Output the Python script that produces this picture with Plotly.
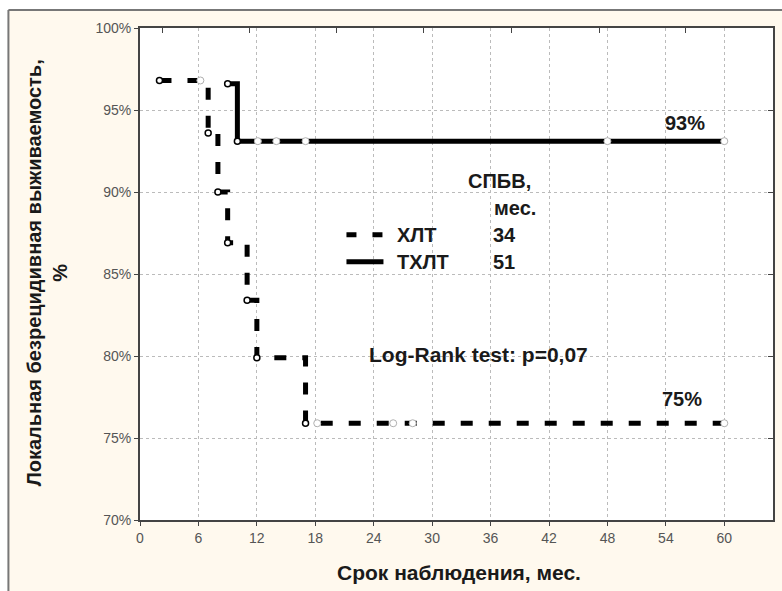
import plotly.graph_objects as go

# ---------------- data ----------------
xlt_times = [2, 7, 8, 9, 11, 12, 17, 60]
xlt_surv = [96.8, 93.6, 90.0, 86.9, 83.4, 79.9, 75.9, 75.9]
xlt_censored = [6.2, 18.2, 26, 28, 60]

txlt_times = [9, 10, 60]
txlt_surv = [96.6, 93.1, 93.1]
txlt_censored = [12.1, 14, 17, 48, 60]

x_ticks = [0, 6, 12, 18, 24, 30, 36, 42, 48, 54, 60]
y_ticks = [70, 75, 80, 85, 90, 95, 100]
top_ticks = [2.35, 11.2, 20.2, 29.1, 38.1, 47.2, 56.0]

legend_names = ["ХЛТ", "ТХЛТ"]
legend_median = ["34", "51"]


def surv_at(times, surv, t):
    s = surv[0]
    for ti, si in zip(times, surv):
        if ti <= t:
            s = si
    return s


FONT = "Liberation Sans, Arial, sans-serif"
fig = go.Figure()

# ХЛТ curve (dashed)
fig.add_trace(go.Scatter(
    x=xlt_times, y=xlt_surv, mode="lines", line_shape="hv",
    line=dict(color="black", width=5, dash="12px,16px"), showlegend=False))
fig.add_trace(go.Scatter(
    x=xlt_times[:-1], y=xlt_surv[:-1], mode="markers",
    marker=dict(symbol="circle", size=6, color="white", line=dict(color="black", width=1.5)),
    showlegend=False))
fig.add_trace(go.Scatter(
    x=xlt_censored, y=[surv_at(xlt_times, xlt_surv, t) for t in xlt_censored], mode="markers",
    marker=dict(symbol="circle", size=7, color="white", line=dict(color="#b0b0b0", width=1)),
    showlegend=False))

# ТХЛТ curve (solid)
fig.add_trace(go.Scatter(
    x=txlt_times, y=txlt_surv, mode="lines", line_shape="hv",
    line=dict(color="black", width=5), showlegend=False))
fig.add_trace(go.Scatter(
    x=txlt_times[:-1], y=txlt_surv[:-1], mode="markers",
    marker=dict(symbol="circle", size=6, color="white", line=dict(color="black", width=1.5)),
    showlegend=False))
fig.add_trace(go.Scatter(
    x=txlt_censored, y=[surv_at(txlt_times, txlt_surv, t) for t in txlt_censored], mode="markers",
    marker=dict(symbol="circle", size=7, color="white", line=dict(color="#b0b0b0", width=1)),
    showlegend=False))

# invisible trace to hold the mirror axes
fig.add_trace(go.Scatter(x=[0], y=[70], xaxis="x2", yaxis="y2", mode="markers",
                         marker=dict(opacity=0), showlegend=False, hoverinfo="skip"))

anns = []
bold = dict(family=FONT, size=20, color="#1a1a1a")
anns.append(dict(x=56.0, y=94.2, text="<b>93%</b>", showarrow=False, font=bold))
anns.append(dict(x=55.7, y=77.4, text="<b>75%</b>", showarrow=False, font=bold))
anns.append(dict(x=36.9, y=90.7, text="<b>СПБВ,</b>", showarrow=False, font=bold))
anns.append(dict(x=38.5, y=89.0, text="<b>мес.</b>", showarrow=False, font=bold))
legend_y = [87.4, 85.75]
for name, med, ly in zip(legend_names, legend_median, legend_y):
    anns.append(dict(x=26.2, y=ly, text="<b>" + name + "</b>", showarrow=False,
                     xanchor="left", font=bold))
    anns.append(dict(x=36.0, y=ly, text="<b>" + med + "</b>", showarrow=False,
                     xanchor="left", font=bold))
anns.append(dict(x=34.8, y=80.1, text="<b>Log-Rank test: p=0,07</b>", showarrow=False,
                 font=dict(family=FONT, size=21, color="#1a1a1a")))

# axis titles
anns.append(dict(xref="paper", yref="paper", x=(460 - 140) / 635, y=-(572 - 520) / 492,
                 xanchor="center", yanchor="middle",
                 text="<b>Срок наблюдения, мес.</b>", showarrow=False,
                 font=dict(family=FONT, size=21, color="#1a1a1a")))
anns.append(dict(xref="paper", yref="paper", x=(47 - 140) / 635, y=(520 - 273) / 492,
                 xanchor="center", yanchor="middle",
                 text="<b>Локальная безрецидивная выживаемость,<br>%</b>", showarrow=False,
                 textangle=-90, font=dict(family=FONT, size=20, color="#1a1a1a")))

shapes = [
    # legend line samples
    dict(type="line", xref="x", yref="y", x0=21.2, x1=25.0, y0=legend_y[0], y1=legend_y[0],
         line=dict(color="black", width=5, dash="10px,16px")),
    dict(type="line", xref="x", yref="y", x0=21.2, x1=25.0, y0=legend_y[1], y1=legend_y[1],
         line=dict(color="black", width=5)),
    # outer white margins and frame
    dict(type="rect", xref="paper", yref="paper", x0=-0.4, x1=1.2, y0=1 + 18 / 492, y1=1.2,
         fillcolor="white", line=dict(width=0)),
    dict(type="rect", xref="paper", yref="paper", x0=-0.4, x1=-132 / 635, y0=-0.3, y1=1.2,
         fillcolor="white", line=dict(width=0)),
    dict(type="line", xref="paper", yref="paper", x0=-132 / 635, x1=1.2, y0=1 + 18 / 492,
         y1=1 + 18 / 492, line=dict(color="#777777", width=2)),
    dict(type="line", xref="paper", yref="paper", x0=-132 / 635, x1=-132 / 635, y0=-0.3,
         y1=1 + 18 / 492, line=dict(color="#777777", width=2)),
]

fig.update_layout(
    width=782, height=591,
    margin=dict(l=140, r=7, t=28, b=71),
    paper_bgcolor="#FFF9EE", plot_bgcolor="white",
    font=dict(family=FONT),
    annotations=anns, shapes=shapes,
    xaxis=dict(range=[0, 65], tickvals=x_ticks, ticktext=[str(v) for v in x_ticks],
               showgrid=True, gridcolor="#bbbbbb", griddash="dot", gridwidth=1,
               showline=True, linecolor="#444444", linewidth=2, mirror=True,
               ticks="outside", ticklen=4, tickcolor="#444444", zeroline=False,
               tickfont=dict(family=FONT, size=14, color="#555555")),
    yaxis=dict(range=[70, 100], tickvals=y_ticks, ticktext=[f"{v}%" for v in y_ticks],
               showgrid=True, gridcolor="#bbbbbb", griddash="dot", gridwidth=1,
               showline=True, linecolor="#444444", linewidth=2, mirror=True,
               ticks="outside", ticklen=4, tickcolor="#444444", zeroline=False,
               tickfont=dict(family=FONT, size=14, color="#555555")),
    xaxis2=dict(overlaying="x", side="top", range=[0, 65], tickvals=top_ticks,
                showticklabels=False, ticks="inside", ticklen=5, tickcolor="#444444",
                showgrid=False, zeroline=False, showline=False, anchor="y2"),
    yaxis2=dict(overlaying="y", side="right", range=[70, 100], tickvals=y_ticks,
                showticklabels=False, ticks="inside", ticklen=5, tickcolor="#444444",
                showgrid=False, zeroline=False, showline=False, anchor="x2"),
)

fig.write_html("out.html")
